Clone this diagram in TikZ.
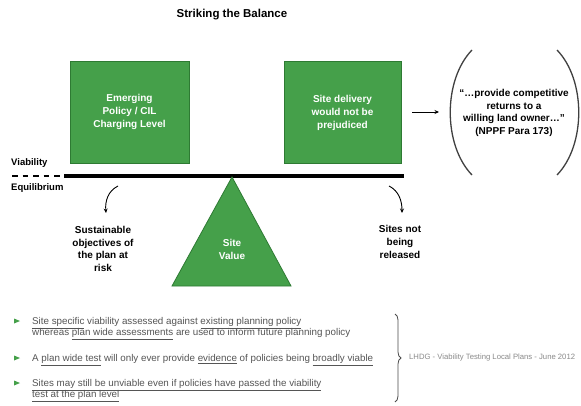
\documentclass[tikz,border=0pt]{standalone}
\usepackage{fontspec}
\setmainfont{Liberation Sans}
\usetikzlibrary{arrows.meta,decorations.pathreplacing}
\definecolor{boxgreen}{HTML}{45A04A}
\definecolor{boxedge}{HTML}{2E7A33}
\definecolor{bodygray}{HTML}{555555}
\definecolor{creditgray}{HTML}{8A8A8A}
\newcommand{\ulx}[1]{\underline{#1}}
\begin{document}
\begin{tikzpicture}[x=1pt,y=-1pt,
  greenbox/.style={draw=boxedge, fill=boxgreen, line width=0.8pt, text=white,
    font=\bfseries\fontsize{10}{13}\selectfont, align=center, inner sep=0pt},
  blacklabel/.style={font=\bfseries\fontsize{10}{12.8}\selectfont, align=center, inner sep=0pt},
  bullettext/.style={font=\fontsize{9.8}{11.5}\selectfont, text=bodygray, anchor=north west, align=left, inner sep=0pt},
  bulletmark/.style={fill=boxgreen, draw=none},
  curvearrow/.style={-{Stealth[length=4.5pt,width=4pt]}, line width=0.9pt},
  paren/.style={line width=1.3pt, draw=black!75},
  beam/.style={line width=3.5pt},
  dashbeam/.style={line width=2.2pt, dash pattern=on 5.5pt off 5pt}
]
\useasboundingbox (0,0) rectangle (581,406);
\fill[white] (0,0) rectangle (581,406);

% title
\node[blacklabel, font=\bfseries\fontsize{11.5}{14}\selectfont] (title) at (232,15) {Striking the Balance};

% boxes
\node[greenbox, minimum width=119pt, minimum height=102pt] (policy) at (129.5,112) {Emerging\\Policy / CIL\\Charging Level};
\node[greenbox, minimum width=117pt, minimum height=102pt] (delivery) at (342.5,112.5) {Site delivery\\would not be\\prejudiced};

% beam
\coordinate (dashL) at (12,176);
\coordinate (beamL) at (64,176);
\coordinate (beamR) at (404,176);
\draw[dashbeam] (dashL) -- (beamL);
\draw[beam] (beamL) -- (beamR);

\node[blacklabel, anchor=west, font=\bfseries\fontsize{9.5}{12}\selectfont] (viab) at (11,163) {Viability};
\node[blacklabel, anchor=west, font=\bfseries\fontsize{9.5}{12}\selectfont] (equil) at (11,188) {Equilibrium};

% fulcrum
\coordinate (apex) at (232,177);
\coordinate (baseL) at (172,286);
\coordinate (baseR) at (291,286);
\draw[draw=boxedge, fill=boxgreen, line width=0.8pt] (apex) -- (baseL) -- (baseR) -- cycle;
\node[greenbox, draw=none, fill=none] (sitevalue) at (232,249) {Site\\Value};

% side consequences
\coordinate (la1) at (118,186);
\coordinate (la2) at (106,213);
\draw[curvearrow] (la1) .. controls (108,191) and (105,201) .. (la2);
\node[blacklabel] (sustain) at (103,249) {Sustainable\\objectives of\\the plan at\\risk};

\coordinate (ra1) at (389,186);
\coordinate (ra2) at (402,213);
\draw[curvearrow] (ra1) .. controls (399,191) and (402,201) .. (ra2);
\node[blacklabel] (sites) at (400,242) {Sites not\\being\\released};

% quote
\coordinate (qa1) at (412,112);
\coordinate (qa2) at (439,112);
\draw[-{Stealth[length=4.5pt,width=4pt]}, line width=0.9pt] (qa1) -- (qa2);
\draw[paren] (472,50) .. controls (443,80) and (443,145) .. (472,175);
\draw[paren] (557,50) .. controls (586,80) and (586,145) .. (557,175);
\node[blacklabel] (quote) at (514,113) {“…provide competitive\\returns to a\\willing land owner…”\\(NPPF Para 173)};

% bullets
\fill[bulletmark] (14,318.5) -- (20,321) -- (14,323.5) -- cycle;
\fill[bulletmark] (14,355.5) -- (20,358) -- (14,360.5) -- cycle;
\fill[bulletmark] (14,380.5) -- (20,383) -- (14,385.5) -- cycle;

\node[bullettext] (b1) at (32,317) {\ulx{Site specific} viability assessed against \ulx{existing planning policy}\\whereas \ulx{plan wide assessments} are used to inform future planning policy};
\node[bullettext] (b2) at (32,354) {A \ulx{plan wide test} will only ever provide \ulx{evidence} of policies being \ulx{broadly viable}};
\node[bullettext] (b3) at (32,379) {\ulx{Sites may still be unviable even if policies have passed the viability}\\\ulx{test at the plan level}};

\coordinate (braceT) at (395,314);
\coordinate (braceB) at (395,402);
\draw[decorate, decoration={brace, amplitude=6pt}, line width=0.8pt, draw=black!70] (braceT) -- (braceB);
\node[anchor=west, inner sep=0pt, font=\fontsize{7.7}{10}\selectfont, text=creditgray] (credit) at (409,358) {LHDG - Viability Testing Local Plans - June 2012};
\end{tikzpicture}
\end{document}
